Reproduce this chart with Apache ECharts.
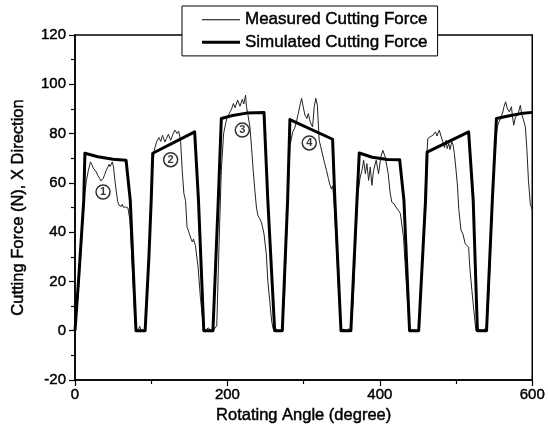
<!DOCTYPE html>
<html>
<head>
<meta charset="utf-8">
<title>Cutting Force, X Direction</title>
<script src="https://cdn.jsdelivr.net/npm/echarts@6/dist/echarts.min.js"></script>
<style>
  html, body { margin: 0; padding: 0; background: #fff; }
  #chart { width: 548px; height: 439px; }
</style>
</head>
<body>
<div id="chart"></div>
<script>
// Rotating angle (degree) vs cutting force (N), X direction
const simulatedForce = [
  [0,0],[5,22],[11.5,53],[13,72],[30,70.6],[50,69.6],[67,69.2],[72.5,53],[80,0],
  [92,0],[97,30],[100,53],[102,72],[157,80.7],[162,53],[169,0],
  [181,0],[188,53],[192,86.1],[205,87.2],[225,88.3],[248,88.6],[253,53],[262,0],
  [272,0],[279,53],[282,85.7],[338,77.7],[341,53],[349,0],
  [362,0],[370,53],[373,72.1],[390,70.4],[410,69.5],[426,69.4],[431.6,53],[439,0],
  [451,0],[460,53],[462,72.5],[516.5,80.7],[522.5,53],[528,0],
  [540,0],[547.6,53],[553,86.1],[570,87.2],[585,88.1],[600,88.6]
];

const measuredForce = [
  // tooth pass 1
  [0,0],[4,14],[8,33],[11,48],[13,56],[15,61],[17.5,65],[20.3,68.5],[22,67.5],[24,66],
  [26,65.2],[28,64.4],[30,63],[32.5,61.7],[34,60.8],[35.5,60.3],[37,61.8],[39,63.4],
  [41,65.1],[43,66.3],[44.6,67.5],[46,66.6],[47.5,67.6],[49,68.5],[50.5,66.5],[52,62],
  [54,57],[56,52.5],[57.5,51],[59,51.6],[60.5,50.4],[62,51.3],[63.5,50.1],[65,50.9],
  [66.5,50.2],[68,50.6],[69.5,49.8],[72,45],[75,27],[78,8],[80,0],[83,0.5],[85,1.8],
  [86.5,0.2],[89,0.6],[92,0],
  // tooth pass 2
  [95,15],[98,38],[100.5,58],[102,67],[104,73.2],[107,76.6],[110,78.4],[112.5,76.8],
  [114.7,79.3],[118,76.6],[120,78],[122.5,79.7],[125.5,77.3],[128.5,79.8],[131,81.4],
  [134,80],[136,81],[138.5,77.3],[140.7,65],[142.9,55.6],[145,52.9],[147,42],[149,40.5],
  [150,39.3],[152.8,36.9],[154,36],[155.5,37.2],[158,34.6],[161.5,25.8],[164.5,13.6],
  [166.7,6.8],[169,0],[172,0.4],[175,1.2],[178,0],[181,0],
  // tooth pass 3
  [186,2],[189,35],[192,65],[195,80],[199,86],[203.5,88.8],[205.5,90],[207.8,92.2],
  [210,90.5],[213.4,93.6],[216.5,91.1],[219.5,93.9],[221.5,92],[223.8,95.6],[225,90.9],
  [227,87.5],[229.5,82.7],[231.6,74.6],[233.8,65.1],[236,57],[238,50.2],[240,46.8],
  [242.5,45.4],[244.6,44],[246,44.5],[248,39.3],[251,31.2],[253,20.3],[255.5,12.2],
  [258,4],[260,0.7],[262,0],[264,0.8],[266,-0.2],[268,0.5],[272,0],
  // tooth pass 4
  [275,15],[279,50],[282,75],[285.7,80.7],[288,82],[290,84.1],[293,88.1],[295.7,92.2],
  [297.4,94.3],[299,91.5],[301.7,87.5],[304.3,86.1],[306,88.1],[308.7,84.7],[311.7,82.7],
  [313.9,90.9],[316,94.3],[318,91.5],[319.5,82.7],[320.4,77.3],[322.5,74.6],[325.6,70.5],
  [327.7,67.8],[330,65.1],[332.5,61.7],[334.7,59],[336.5,57.5],[338,58.8],[339.8,52.9],
  [343,35],[346,15],[349,0],[352,0.6],[356,0],[359,0.8],[362,0],
  // tooth pass 5
  [365,12],[368,35],[371,55],[374,62],[376.6,65.1],[378.8,69.2],[381,63.7],[383,67.8],
  [385.3,61],[387.4,66.4],[389.6,59],[391.8,65.1],[395.2,69.2],[398.3,63.7],[401.3,70.5],
  [404,73.2],[407,70.5],[409,67],[411,63.7],[413.4,56.3],[415.6,52.2],[418.6,51.5],
  [421,50.2],[423,50.8],[424.5,48.8],[427,47.5],[431,38],[435,18],[439,0],[442,0.4],
  [446,0],[451,0],
  // tooth pass 6
  [454,15],[458,45],[461,68],[463,78],[466,78.7],[469.7,79.3],[471,78.5],[473,80.7],
  [475,79],[478,81.4],[480.5,78.7],[482.7,76.6],[484.8,74.3],[487,77.3],[488.3,73.9],
  [490.5,76],[492,73.5],[494.4,76.6],[496,75.5],[497.8,71.9],[500,65.1],[502,58.3],
  [503.5,49.6],[506.5,40.7],[509,39.3],[512,35.3],[514,36],[516.5,33.9],[518,25.8],
  [520.8,16.3],[523.8,6.8],[526,0],[530,0.5],[534,0],[537,0.7],[540,0],
  // tooth pass 7
  [543,15],[547,45],[550,68],[554,82.7],[556,84.5],[558.4,86.1],[561.4,88.8],[563,91],
  [565,92.9],[567.5,90],[570,88.8],[572.7,90.9],[574,87],[575.7,83.4],[578,86.8],
  [581,87.5],[584.4,91.5],[586,88.1],[588,86],[591,82.7],[593,73.2],[595,61],
  [597.4,51.5],[600,49]
];

// circled markers ①–④
const markerLabels = ['1', '2', '3', '4'];
const markerAngles = [36.8, 125.5, 219.5, 307.4];
const markerForces = [56.3, 69.4, 81.4, 76.2];

const seriesNames = ['Measured Cutting Force', 'Simulated Cutting Force'];
const axisTitleX = 'Rotating Angle (degree)';
const axisTitleY = 'Cutting Force (N), X Direction';

const FONT = "'Liberation Sans', Arial, sans-serif";
// slightly heavier glyphs, like a printed figure
const ink = { textBorderColor: '#000', textBorderWidth: 0.45 };

const markerData = markerLabels.map((t, i) => [markerAngles[i], markerForces[i], t]);

const chart = echarts.init(document.getElementById('chart'), null, { renderer: 'canvas' });

chart.setOption({
  animation: false,
  backgroundColor: '#fff',
  textStyle: { fontFamily: FONT, color: '#000' },
  grid: {
    left: 75, right: 11, top: 35, bottom: 59,
    show: true, borderColor: '#000', borderWidth: 1.5, backgroundColor: 'transparent'
  },
  legend: {
    data: [
      { name: seriesNames[0], icon: 'path://M0,0h38v1h-38z' },
      { name: seriesNames[1], icon: 'path://M0,0h38v3h-38z' }
    ],
    orient: 'vertical',
    left: 182, top: 6,
    padding: [5, 10, 5, 20],
    itemGap: 5,
    itemWidth: 38,
    itemHeight: 12,
    backgroundColor: '#fff',
    borderColor: '#000',
    borderWidth: 1,
    borderRadius: 0,
    itemStyle: { color: '#000', borderWidth: 0 },
    textStyle: Object.assign({ fontFamily: FONT, fontSize: 17, color: '#000' }, ink)
  },
  xAxis: {
    type: 'value',
    min: 0, max: 600, interval: 200,
    name: axisTitleX,
    nameLocation: 'middle',
    nameGap: 22,
    nameTextStyle: Object.assign({ fontFamily: FONT, fontSize: 16.5, color: '#000' }, ink),
    axisLine: { show: true, onZero: false, lineStyle: { color: '#000', width: 1.5 } },
    axisTick: { show: true, inside: false, length: 6, lineStyle: { color: '#000', width: 1.2 } },
    minorTick: { show: true, splitNumber: 2, length: 4, lineStyle: { color: '#000', width: 1.2 } },
    axisLabel: Object.assign({ fontFamily: FONT, fontSize: 15, color: '#000', margin: 7 }, ink),
    splitLine: { show: false }
  },
  yAxis: {
    type: 'value',
    min: -20, max: 120, interval: 20,
    name: axisTitleY,
    nameLocation: 'middle',
    nameGap: 48,
    nameTextStyle: Object.assign({ fontFamily: FONT, fontSize: 16.5, color: '#000' }, ink),
    axisLine: { show: true, onZero: false, lineStyle: { color: '#000', width: 1.5 } },
    axisTick: { show: true, inside: false, length: 6, lineStyle: { color: '#000', width: 1.2 } },
    minorTick: { show: true, splitNumber: 2, length: 4, lineStyle: { color: '#000', width: 1.2 } },
    axisLabel: Object.assign({ fontFamily: FONT, fontSize: 15, color: '#000', margin: 9 }, ink),
    splitLine: { show: false }
  },
  series: [
    {
      name: seriesNames[0],
      type: 'line',
      data: measuredForce,
      symbol: 'none',
      z: 3,
      lineStyle: { color: '#222', width: 1 },
      itemStyle: { color: '#222' }
    },
    {
      name: seriesNames[1],
      type: 'line',
      data: simulatedForce,
      symbol: 'none',
      z: 4,
      lineStyle: { color: '#000', width: 3, join: 'round' },
      itemStyle: { color: '#000' }
    },
    {
      name: 'markers',
      type: 'scatter',
      data: markerData,
      symbol: 'circle',
      symbolSize: 14,
      z: 6,
      itemStyle: { color: '#fff', borderColor: '#000', borderWidth: 1.5 },
      label: {
        show: true,
        position: 'inside',
        formatter: p => p.data[2],
        fontFamily: FONT,
        fontSize: 11,
        fontWeight: 'bold',
        color: '#000'
      },
      emphasis: { disabled: true }
    }
  ]
});
</script>
</body>
</html>
